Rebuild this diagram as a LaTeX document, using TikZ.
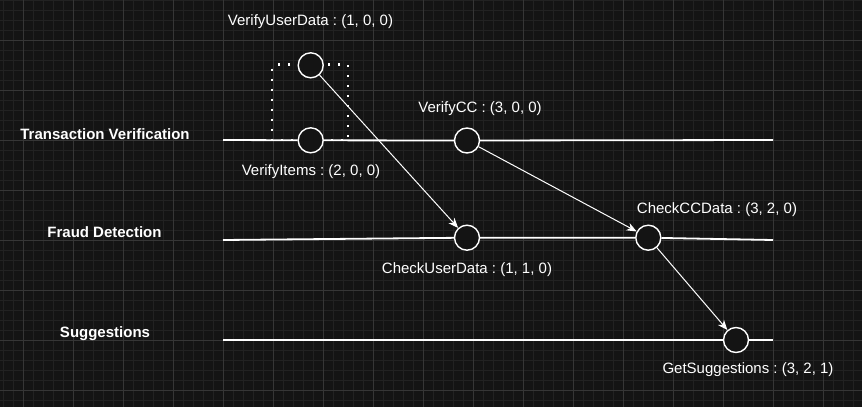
\documentclass[tikz,border=0pt]{standalone}
\usepackage{fontspec}
\setmainfont{Liberation Sans}
\usetikzlibrary{arrows.meta}
\definecolor{bgc}{RGB}{20,20,20}
\definecolor{minorc}{RGB}{34,34,34}
\definecolor{majorc}{RGB}{54,54,54}
\tikzset{
  minorgrid/.style={draw=minorc, line width=1pt},
  majorgrid/.style={draw=majorc, line width=1pt},
  evt/.style={circle, draw=white, fill=bgc, line width=1.4pt, minimum size=25pt, inner sep=0pt},
  lane/.style={draw=white, line width=1.8pt},
  flow/.style={draw=white, line width=1pt, -{Stealth[length=10pt,width=8pt,inset=3pt]}},
  grp/.style={draw=white, line width=2.2pt, dash pattern=on 2.2pt off 7.8pt, dash phase=-4pt},
  lbl/.style={text=white, font=\fontsize{15}{18}\selectfont, inner sep=0pt},
  lanelbl/.style={text=white, font=\fontsize{15}{18}\selectfont\bfseries, inner sep=0pt},
}
\frenchspacing
\begin{document}
\begin{tikzpicture}[x=1pt,y=-1pt]
\fill[bgc] (0,0) rectangle (862,407);
\useasboundingbox (0,0) rectangle (862,407);
\foreach \x in {3,13,...,853} \draw[minorgrid] (\x,0) -- (\x,407);
\foreach \y in {0,10,...,400} \draw[minorgrid] (0,\y) -- (862,\y);
\foreach \x in {23,73,...,823} \draw[majorgrid] (\x,0) -- (\x,407);
\foreach \y in {40,90,...,390} \draw[majorgrid] (0,\y) -- (862,\y);

% group (dotted box)
\coordinate (g1) at (272.3,64.5);
\coordinate (g2) at (347.7,140);
\draw[grp] (g1) rectangle (g2);

% lane ends
\coordinate (tvL) at (223,140);
\coordinate (tvR) at (773,140);
\coordinate (fdL) at (223,240);
\coordinate (fdR) at (773,240);
\coordinate (sgL) at (223,340);
\coordinate (sgR) at (773,340);

% events
\node[evt] (vud) at (310.7,65.3) {};
\node[evt] (vi) at (310.7,140.3) {};
\node[evt] (vc) at (467,140.5) {};
\node[evt] (cud) at (467,237.7) {};
\node[evt] (ccd) at (648.3,237.7) {};
\node[evt] (gs) at (736,340) {};

% lanes
\draw[lane] (tvL) -- (vi) -- (vc) -- (tvR);
\draw[lane] (fdL) -- (cud) -- (ccd) -- (fdR);
\draw[lane] (sgL) -- (gs) -- (sgR);

% flows
\draw[flow] (vud) -- (cud);
\draw[flow] (vc) -- (ccd);
\draw[flow] (ccd) -- (gs);

% lane labels
\node[lanelbl] (ltv) at (105,134) {Transaction Verification};
\node[lanelbl] (lfd) at (104.5,232) {Fraud Detection};
\node[lanelbl] (lsg) at (105,334) {Suggestions};

% event labels
\node[lbl] (tvud) at (310.5,22) {VerifyUserData : (1, 0, 0)};
\node[lbl] (tvi) at (311,171.5) {VerifyItems : (2, 0, 0)};
\node[lbl] (tvc) at (480,109) {VerifyCC : (3, 0, 0)};
\node[lbl] (tcud) at (467,269.5) {CheckUserData : (1, 1, 0)};
\node[lbl] (tccd) at (717,209.5) {CheckCCData : (3, 2, 0)};
\node[lbl] (tgs) at (748,369.5) {GetSuggestions : (3, 2, 1)};
\end{tikzpicture}
\end{document}
